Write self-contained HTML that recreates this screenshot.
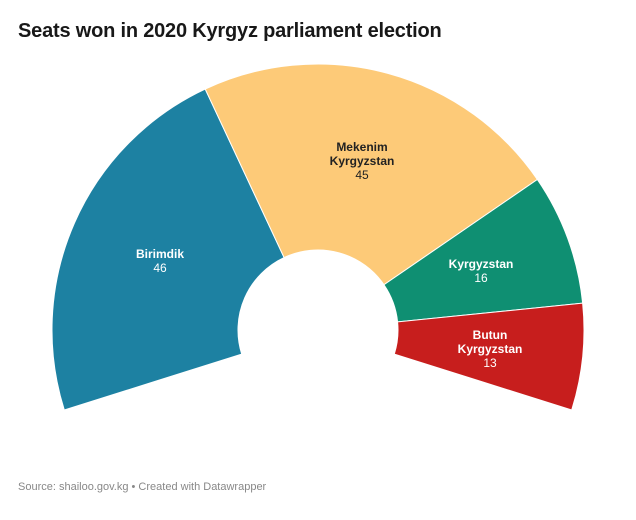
<!DOCTYPE html>
<html><head><meta charset="utf-8"><style>
body{margin:0;background:#fff;width:636px;height:520px;overflow:hidden;font-family:"Liberation Sans",Arial,sans-serif}
.t{position:absolute;left:18px;top:20px;font-size:20px;font-weight:bold;color:#181818;letter-spacing:-0.2px}
.s{position:absolute;left:18px;top:481px;font-size:11px;color:#888}
svg text{font-family:"Liberation Sans",Arial,sans-serif;font-size:12px;text-anchor:middle}
</style></head><body>
<div class="t">Seats won in 2020 Kyrgyz parliament election</div>
<svg id="c" width="636" height="520" style="position:absolute;left:0;top:0"></svg>
<div class="s">Source: shailoo.gov.kg • Created with Datawrapper</div>
<script>
var cx=318,cy=330,R=266,r=80,start=197.5,total=215;
var d=[[46,"#1d81a2"],[45,"#fdca78"],[16,"#0f8f72"],[13,"#c71e1d"]];
var svg=document.getElementById('c'),a=start,h='';
function p(rad,ang){var t=ang*Math.PI/180;return (cx+rad*Math.cos(t)).toFixed(2)+','+(cy-rad*Math.sin(t)).toFixed(2);}
d.forEach(function(s){var b=a-s[0]/120*total,l=(a-b)>180?1:0;
h+='<path d="M'+p(R,a)+' A'+R+','+R+' 0 '+l+' 1 '+p(R,b)+' L'+p(r,b)+' A'+r+','+r+' 0 '+l+' 0 '+p(r,a)+' Z" fill="'+s[1]+'" stroke="#fff" stroke-width="1"/>';a=b;});
h+='<g fill="#fff"><text x="160" y="258" font-weight="bold">Birimdik</text><text x="160" y="272">46</text>';
h+='<text x="481" y="268" font-weight="bold">Kyrgyzstan</text><text x="481" y="282">16</text>';
h+='<text x="490" y="339" font-weight="bold">Butun</text><text x="490" y="353" font-weight="bold">Kyrgyzstan</text><text x="490" y="367">13</text></g>';
h+='<g fill="#222"><text x="362" y="151" font-weight="bold">Mekenim</text><text x="362" y="165" font-weight="bold">Kyrgyzstan</text><text x="362" y="179">45</text></g>';
svg.innerHTML=h;
</script>
</body></html>
